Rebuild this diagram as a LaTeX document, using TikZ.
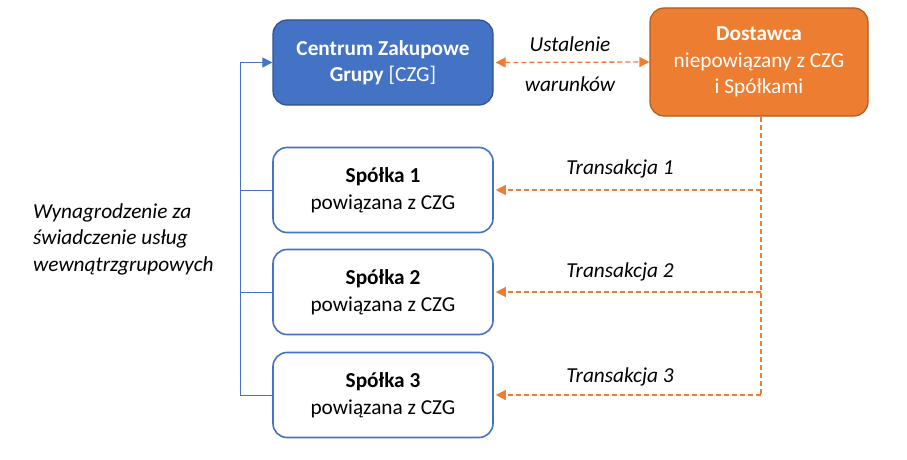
\documentclass[tikz,border=0pt]{standalone}
\usepackage{fontspec}
\setmainfont{Carlito}
\usetikzlibrary{arrows.meta,calc}
\definecolor{cblue}{HTML}{4472C4}
\definecolor{cbluedk}{HTML}{2F528F}
\definecolor{corange}{HTML}{ED7D31}
\definecolor{corangedk}{HTML}{AE5A21}
\tikzset{
  box/.style={rounded corners=14pt, minimum width=220pt, minimum height=85pt, align=center, inner sep=0pt, font=\fontsize{21.3}{26.5}\selectfont},
  bluebox/.style={box, fill=cblue, draw=cbluedk, line width=1.2pt, text=white},
  orangebox/.style={box, fill=corange, draw=corangedk, line width=1.2pt, text=white, minimum width=218pt, minimum height=108pt},
  whitebox/.style={box, fill=white, draw=cblue, line width=1.6pt, text=black},
  odash/.style={draw=corange, line width=1.3pt, dash pattern=on 5pt off 3pt, -{Triangle[length=10pt,width=10pt]}},
  bline/.style={draw=cblue, line width=1pt},
  lbl/.style={font=\fontsize{21.3}{26.5}\selectfont\itshape, inner sep=0pt}
}
\begin{document}
\begin{tikzpicture}[x=1pt,y=-1pt]
\useasboundingbox (0,0) rectangle (907,460);
\node[bluebox] (czg) at (383,62.5) {\textbf{Centrum Zakupowe}\\\textbf{Grupy} [CZG]};
\node[orangebox] (dost) at (759,62) {\textbf{Dostawca}\\niepowiązany z CZG\\i Spółkami};
\node[whitebox] (s1) at (383,190) {\textbf{Spółka 1}\\powiązana z CZG};
\node[whitebox] (s2) at (383,292) {\textbf{Spółka 2}\\powiązana z CZG};
\node[whitebox] (s3) at (383,395) {\textbf{Spółka 3}\\powiązana z CZG};
\coordinate (bx) at (240,0);
\coordinate (rx) at (761,0);
% CZG <-> Dostawca
\draw[odash, {Triangle[length=10pt,width=10pt]}-{Triangle[length=10pt,width=10pt]}] ([xshift=2pt]czg.east) -- (dost.west);
\node[lbl] (ust) at (570,44) {Ustalenie};
\node[lbl] (war) at (570,84) {warunków};
% right dashed lines
\draw[odash, -] (dost.south -| rx) -- (s3.east -| rx);
\draw[odash] (s1.east -| rx) -- ([xshift=2pt]s1.east);
\draw[odash] (s2.east -| rx) -- ([xshift=2pt]s2.east);
\draw[odash] (s3.east -| rx) -- ([xshift=2pt]s3.east);
\node[lbl] (t1) at (620,169) {Transakcja 1};
\node[lbl] (t2) at (620,272) {Transakcja 2};
\node[lbl] (t3) at (620,377) {Transakcja 3};
% left bracket
\draw[bline] (s3.west) -- (s3.west -| bx) -- (czg.west -| bx);
\draw[bline, -{Triangle[length=10pt,width=10pt]}] (czg.west -| bx) -- (czg.west);
\draw[bline] (s1.west) -- (s1.west -| bx);
\draw[bline] (s2.west) -- (s2.west -| bx);
\node[lbl, anchor=west, align=left] (wyn) at (33,239) {Wynagrodzenie za\\świadczenie usług\\wewnątrzgrupowych};
\end{tikzpicture}
\end{document}
